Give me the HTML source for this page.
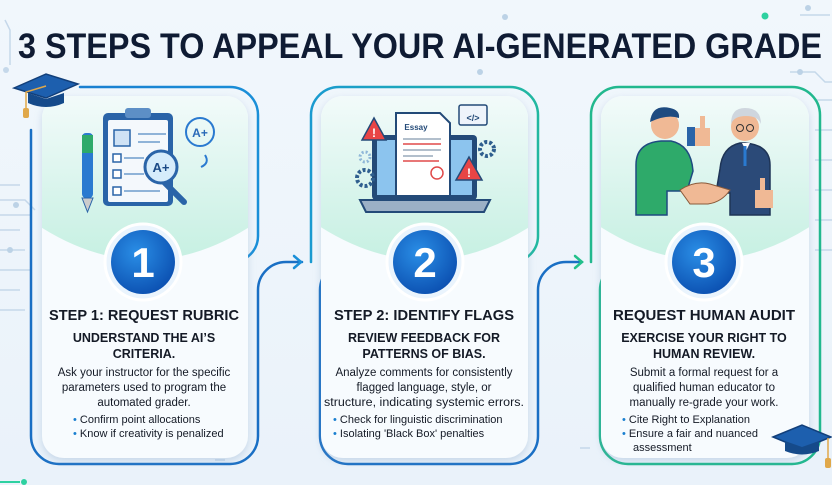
<!DOCTYPE html>
<html><head><meta charset="utf-8"><style>
html,body{margin:0;padding:0;background:#eef5fb;}
svg{display:block}
text{font-family:"Liberation Sans",sans-serif;}
</style></head><body>
<svg width="832" height="485" viewBox="0 0 832 485" xmlns="http://www.w3.org/2000/svg">
<defs>
<linearGradient id="bg" x1="0" y1="0" x2="0" y2="1"><stop offset="0" stop-color="#f1f7fc"/><stop offset="1" stop-color="#eaf2fa"/></linearGradient>
<linearGradient id="mint" x1="0" y1="0" x2="0" y2="1"><stop offset="0" stop-color="#f4fbfb"/><stop offset="1" stop-color="#c6f0e2"/></linearGradient>
<radialGradient id="circ" cx="0.4" cy="0.35" r="0.7"><stop offset="0" stop-color="#2a8ee6"/><stop offset="1" stop-color="#0b4fb0"/></radialGradient>
<linearGradient id="l1" x1="0" y1="0" x2="1" y2="0"><stop offset="0" stop-color="#1a7fd0"/><stop offset="1" stop-color="#1a8fd8"/></linearGradient>
<linearGradient id="l2" x1="0" y1="0" x2="1" y2="0"><stop offset="0" stop-color="#1a9ad0"/><stop offset="1" stop-color="#22b8a0"/></linearGradient>
<linearGradient id="l3" x1="0" y1="0" x2="1" y2="0"><stop offset="0" stop-color="#22c08a"/><stop offset="1" stop-color="#1a90d0"/></linearGradient>
<filter id="sh" x="-10%" y="-10%" width="120%" height="120%"><feDropShadow dx="0" dy="3" stdDeviation="4" flood-color="#7fa3c8" flood-opacity="0.35"/></filter>
<clipPath id="c1"><rect x="42" y="96" width="206" height="362" rx="22"/></clipPath>
<clipPath id="c2"><rect x="321" y="96" width="207" height="362" rx="22"/></clipPath>
<clipPath id="c3"><rect x="601" y="96" width="208" height="362" rx="22"/></clipPath>
</defs>
<rect width="832" height="485" fill="url(#bg)"/>
<!-- circuit decorations -->
<g stroke="#c5d8ea" stroke-width="1.5" fill="none">
<path d="M0 185h20M0 200h25l10 10M0 215h30M0 230h20M0 250h25M0 270h30M0 290h20M0 310h25"/>
<path d="M5 20l5 10v35"/>
<path d="M800 15h30M790 72h25l10 10h10M815 100h20M815 130h20M815 160h20M815 190h20M815 220h20M815 250h20"/>
<path d="M215 460h10M590 448h-10"/>
</g>
<circle cx="6" cy="70" r="3" fill="#c5d8ea"/><circle cx="16" cy="205" r="3" fill="#bcd2e6"/><circle cx="10" cy="250" r="3" fill="#bcd2e6"/>
<circle cx="505" cy="17" r="3" fill="#bcd2e6"/><circle cx="480" cy="72" r="3" fill="#bcd2e6"/>
<circle cx="765" cy="16" r="3.5" fill="#2ed1a0"/><circle cx="808" cy="8" r="3" fill="#bcd2e6"/><circle cx="800" cy="72" r="3" fill="#bcd2e6"/>
<path d="M0 482h20" stroke="#2ed1a0" stroke-width="2"/><circle cx="24" cy="482" r="3" fill="#2ed1a0"/>
<!-- title -->
<text x="18" y="58" font-size="35" font-weight="bold" fill="#0f1b33" textLength="804" lengthAdjust="spacingAndGlyphs">3 STEPS TO APPEAL YOUR AI-GENERATED GRADE</text>

<!-- connector lines -->
<g fill="none" stroke-width="2.5" stroke-linecap="round">
<!-- card1 -->
<path d="M80 87H230a28 28 0 0 1 28 28V236a26 26 0 0 1 -26 26H180" stroke="url(#l1)"/>
<path d="M31 130V436a28 28 0 0 0 28 28H230a28 28 0 0 0 28 -28V290a28 28 0 0 1 28 -28H302" stroke="#1a6fc4"/>
<path d="M294 256l7 6l-7 6" stroke="#1a8fd8"/>
<!-- card2 -->
<path d="M311 262V115a28 28 0 0 1 28 -28H510a28 28 0 0 1 28 28V236a26 26 0 0 1 -26 26H462" stroke="url(#l2)"/>
<path d="M380 262H348a28 28 0 0 0 -28 28V436a28 28 0 0 0 28 28H510a28 28 0 0 0 28 -28V290a28 28 0 0 1 28 -28H582" stroke="#1a6fc4"/>
<path d="M374 256l7 6l-7 6" stroke="#1a6fc4"/>
<path d="M575 256l7 6l-7 6" stroke="#22c08a"/>
<path d="M299 256l7 6" stroke="none"/>
<!-- card3 -->
<path d="M591 262V115a28 28 0 0 1 28 -28H792a28 28 0 0 1 28 28V436a28 28 0 0 1 -28 28H628a28 28 0 0 1 -28 -28V290a28 28 0 0 1 28 -28H662" stroke="#22b88e"/>
<path d="M655 256l7 6l-7 6" stroke="#1a7fd0"/>
</g>

<!-- cards -->
<g filter="url(#sh)">
<rect x="42" y="96" width="206" height="362" rx="22" fill="#f7fbfe"/>
<rect x="321" y="96" width="207" height="362" rx="22" fill="#f7fbfe"/>
<rect x="601" y="96" width="208" height="362" rx="22" fill="#f7fbfe"/>
</g>
<g clip-path="url(#c1)"><path d="M30 90H260V220Q145 300 30 220Z" fill="url(#mint)"/></g>
<g clip-path="url(#c2)"><path d="M310 90H540V220Q425 300 310 220Z" fill="url(#mint)"/></g>
<g clip-path="url(#c3)"><path d="M590 90H820V220Q705 300 590 220Z" fill="url(#mint)"/></g>

<!-- icon 1: clipboard -->
<g>
<rect x="103" y="113" width="70" height="93" rx="5" fill="#2a64a8"/>
<rect x="108" y="120" width="60" height="82" rx="2" fill="#f4f8fc"/>
<rect x="125" y="108" width="26" height="10" rx="3" fill="#5d8fc6"/>
<rect x="114" y="130" width="16" height="16" fill="#cfe2f5" stroke="#2a64a8" stroke-width="1.5"/>
<g stroke="#8fb3d8" stroke-width="2"><path d="M138 134h28M138 142h22M124 158h20M124 174h20M124 191h36"/></g>
<g fill="#fff" stroke="#2a64a8" stroke-width="1.5"><rect x="113" y="154" width="8" height="8"/><rect x="113" y="170" width="8" height="8"/><rect x="113" y="187" width="8" height="8"/></g>
<path d="M160 178l24 24" stroke="#2a64a8" stroke-width="6" stroke-linecap="round"/>
<circle cx="161" cy="167" r="16" fill="#d6ecfb" stroke="#2a64a8" stroke-width="3"/>
<text x="161" y="172" font-size="13" text-anchor="middle" fill="#1c4a86" font-weight="bold">A+</text>
<circle cx="200" cy="132" r="14" fill="none" stroke="#2a7ad0" stroke-width="2"/>
<text x="200" y="137" font-size="12" text-anchor="middle" fill="#2a6ab8" font-weight="bold">A+</text>
<path d="M205 155q5 8 -4 12" stroke="#2a7ad0" stroke-width="2" fill="none"/>
<rect x="82" y="133" width="11" height="65" rx="4" fill="#2a7ad0"/><rect x="82" y="135" width="11" height="18" fill="#2eaa6a"/>
<path d="M82 198l5.5 14l5.5 -14z" fill="#ccc" stroke="#2a64a8"/>
</g>
<!-- icon 2: laptop -->
<g>
<rect x="372" y="135" width="105" height="65" rx="4" fill="#234a78"/>
<rect x="377" y="140" width="95" height="55" fill="#8cc4ee"/>
<path d="M360 200h130l-6 12h-118z" fill="#9bb0c6" stroke="#234a78" stroke-width="2"/>
<path d="M396 113h44l10 10v73h-54z" fill="#fff" stroke="#234a78" stroke-width="2"/>
<text x="416" y="130" font-size="8" font-weight="bold" fill="#234a78" text-anchor="middle">Essay</text>
<g stroke-width="1.5"><path d="M403 139h38M403 150h38M403 156h30" stroke="#9ab"/><path d="M403 144h38M403 161h36" stroke="#e04a4a"/></g>
<circle cx="437" cy="173" r="6" fill="none" stroke="#e04a4a" stroke-width="1.5"/>
<path d="M374 118l-12 22h24z" fill="#e84545" stroke="#234a78" stroke-width="1.5"/><text x="374" y="137" font-size="12" font-weight="bold" fill="#fff" text-anchor="middle">!</text>
<path d="M469 157l-13 23h26z" fill="#e84545" stroke="#234a78" stroke-width="1.5"/><text x="469" y="177" font-size="12" font-weight="bold" fill="#fff" text-anchor="middle">!</text>
<rect x="459" y="105" width="28" height="20" rx="2" fill="#eef4fb" stroke="#234a78" stroke-width="1.5"/>
<text x="473" y="121" font-size="9" font-weight="bold" fill="#234a78" text-anchor="middle">&lt;/&gt;</text>
<circle cx="487" cy="149" r="7" fill="none" stroke="#2f5f8f" stroke-width="4" stroke-dasharray="3 2"/>
<circle cx="365" cy="178" r="8" fill="none" stroke="#2f5f8f" stroke-width="4" stroke-dasharray="3 2"/>
<circle cx="365" cy="157" r="5" fill="none" stroke="#8fb7d8" stroke-width="3" stroke-dasharray="2 2"/>
</g>
<!-- icon 3: handshake -->
<g>
<circle cx="665" cy="125" r="14" fill="#f0b995"/><path d="M650 122q2-18 20-14q10 2 9 10q-12-4-29 4z" fill="#1e4b80"/>
<path d="M636 215v-50q0-22 25-24h10q20 4 22 30l-6 20h-20v24z" fill="#2eaa6a" stroke="#1e4b80" stroke-width="1.5"/>
<circle cx="745" cy="127" r="14" fill="#f0b995"/><path d="M731 124q0-16 14-16q16 0 16 16q-3-8-15-8q-12 0-15 8z" fill="#cfd6de"/>
<circle cx="740" cy="128" r="3.5" fill="none" stroke="#333"/><circle cx="750" cy="128" r="3.5" fill="none" stroke="#333"/>
<path d="M770 215v-50q0-20-25-22h-5q-18 4-20 26l-4 24h14v22z" fill="#2b4a78" stroke="#1e3456" stroke-width="1.5"/>
<path d="M742 143l4 8l4-8" fill="#fff"/><path d="M745 146v20" stroke="#2a7ad0" stroke-width="3"/>
<path d="M680 190q15-10 30-6l20 6q-8 12-22 14h-18z" fill="#f0b995" stroke="#8a5a3a" stroke-width="1"/>
<rect x="687" y="127" width="8" height="19" fill="#2a64a8"/><path d="M695 128h15v18h-15z" fill="#f0b995"/><path d="M700 128v-12h5v12" fill="#f0b995"/>
<path d="M755 190h18v18h-18z" fill="#f0b995"/><path d="M760 190v-12h5v12" fill="#f0b995"/>
</g>

<!-- number circles -->
<g>
<circle cx="143" cy="262" r="38" fill="#eaf4fd" stroke="#fff" stroke-width="3"/>
<circle cx="143" cy="262" r="32" fill="url(#circ)"/>
<text x="143" y="277" font-size="42" font-weight="bold" fill="#fff" text-anchor="middle">1</text>
<circle cx="425" cy="262" r="38" fill="#eaf4fd" stroke="#fff" stroke-width="3"/>
<circle cx="425" cy="262" r="32" fill="url(#circ)"/>
<text x="425" y="277" font-size="42" font-weight="bold" fill="#fff" text-anchor="middle">2</text>
<circle cx="704" cy="262" r="38" fill="#eaf4fd" stroke="#fff" stroke-width="3"/>
<circle cx="704" cy="262" r="32" fill="url(#circ)"/>
<text x="704" y="277" font-size="42" font-weight="bold" fill="#fff" text-anchor="middle">3</text>
</g>

<!-- text card 1 -->
<g fill="#141a26" text-anchor="middle">
<text x="144" y="320" font-size="15" font-weight="bold" textLength="190" lengthAdjust="spacingAndGlyphs">STEP 1: REQUEST RUBRIC</text>
<text x="144" y="342" font-size="12.5" font-weight="bold">UNDERSTAND THE AI’S</text>
<text x="144" y="358" font-size="12.5" font-weight="bold">CRITERIA.</text>
<text x="144" y="376" font-size="11.5">Ask your instructor for the specific</text>
<text x="144" y="391" font-size="11.5">parameters used to program the</text>
<text x="144" y="406" font-size="11.5">automated grader.</text>
<text x="73" y="423" font-size="11" text-anchor="start"><tspan fill="#1a7fd0">•</tspan> Confirm point allocations</text>
<text x="73" y="437" font-size="11" text-anchor="start"><tspan fill="#1a7fd0">•</tspan> Know if creativity is penalized</text>
</g>
<!-- text card 2 -->
<g fill="#141a26" text-anchor="middle">
<text x="424" y="320" font-size="15" font-weight="bold" textLength="180" lengthAdjust="spacingAndGlyphs">STEP 2: IDENTIFY FLAGS</text>
<text x="424" y="342" font-size="12.5" font-weight="bold">REVIEW FEEDBACK FOR</text>
<text x="424" y="358" font-size="12.5" font-weight="bold">PATTERNS OF BIAS.</text>
<text x="424" y="376" font-size="11.5">Analyze comments for consistently</text>
<text x="424" y="391" font-size="11.5">flagged language, style, or</text>
<text x="424" y="406" font-size="11.5" textLength="200" lengthAdjust="spacingAndGlyphs">structure, indicating systemic errors.</text>
<text x="333" y="423" font-size="11" text-anchor="start"><tspan fill="#1a7fd0">•</tspan> Check for linguistic discrimination</text>
<text x="333" y="437" font-size="11" text-anchor="start"><tspan fill="#1a7fd0">•</tspan> Isolating 'Black Box' penalties</text>
</g>
<!-- text card 3 -->
<g fill="#141a26" text-anchor="middle">
<text x="704" y="320" font-size="15" font-weight="bold" textLength="182" lengthAdjust="spacingAndGlyphs">REQUEST HUMAN AUDIT</text>
<text x="704" y="342" font-size="12.5" font-weight="bold">EXERCISE YOUR RIGHT TO</text>
<text x="704" y="358" font-size="12.5" font-weight="bold">HUMAN REVIEW.</text>
<text x="704" y="376" font-size="11.5">Submit a formal request for a</text>
<text x="704" y="391" font-size="11.5">qualified human educator to</text>
<text x="704" y="406" font-size="11.5">manually re-grade your work.</text>
<text x="622" y="423" font-size="11" text-anchor="start"><tspan fill="#1a7fd0">•</tspan> Cite Right to Explanation</text>
<text x="622" y="437" font-size="11" text-anchor="start"><tspan fill="#1a7fd0">•</tspan> Ensure a fair and nuanced</text>
<text x="633" y="451" font-size="11" text-anchor="start">assessment</text>
</g>

<!-- grad caps -->
<g>
<path d="M14 88l32-14l32 10l-32 14z" fill="#1d5fae" stroke="#123f7a" stroke-width="1.5"/>
<path d="M28 93v10q18 8 36 0v-10l-18 6z" fill="#154a8a"/>
<path d="M46 86l-20 6v18" stroke="#e0a84a" stroke-width="1.5" fill="none"/><rect x="23" y="108" width="6" height="10" rx="2" fill="#e0a84a"/>
<path d="M773 437l29-12l29 12l-29 12z" fill="#1d5fae" stroke="#123f7a" stroke-width="1.5"/>
<path d="M785 441v10q17 7 34 0v-10l-17 6z" fill="#154a8a"/>
<path d="M828 438v22" stroke="#e0a84a" stroke-width="1.5"/><rect x="825" y="458" width="6" height="10" rx="2" fill="#e0a84a"/>
</g>
</svg>
</body></html>
